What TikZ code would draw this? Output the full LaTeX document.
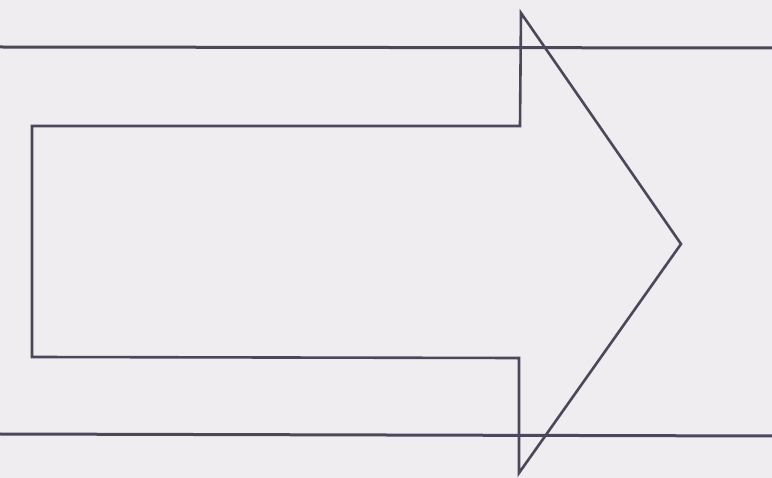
\documentclass[tikz,border=0pt]{standalone}
\definecolor{bgpaper}{RGB}{239,237,240}
\definecolor{inkline}{RGB}{74,72,90}
\begin{document}
\begin{tikzpicture}[x=1pt,y=-1pt,
  rule/.style={draw=inkline,line width=3pt},
  outline/.style={draw=inkline,line width=2.6pt,line join=miter}]
\fill[bgpaper] (0,0) rectangle (772,478);
\useasboundingbox (0,0) rectangle (772,478);
% horizontal rules
\coordinate (tl) at (0,47);
\coordinate (tr) at (772,48);
\coordinate (bl) at (0,434);
\coordinate (br) at (772,436);
\draw[rule] (tl) -- (tr);
\draw[rule] (bl) -- (br);
% arrow outline
\coordinate (a1) at (32,126);
\coordinate (a2) at (520,126);
\coordinate (a3) at (521,13);
\coordinate (tip) at (681,244);
\coordinate (a5) at (519,473);
\coordinate (a6) at (519,358);
\coordinate (a7) at (32,357);
\draw[outline] (a1) -- (a2) -- (a3) -- (tip) -- (a5) -- (a6) -- (a7) -- cycle;
\end{tikzpicture}
\end{document}
